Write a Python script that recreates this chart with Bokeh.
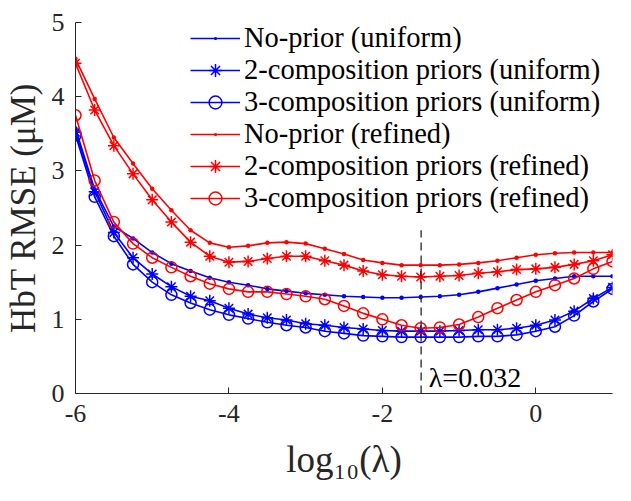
import numpy as np
from bokeh.plotting import figure
from bokeh.models import Legend, LegendItem, Label, FixedTicker, Range1d
from bokeh.embed import file_html
from bokeh.resources import INLINE

# ---------------- data ----------------
log_lambda = [-6.0, -5.75, -5.5, -5.25, -5.0, -4.75, -4.5, -4.25, -4.0, -3.75,
              -3.5, -3.25, -3.0, -2.75, -2.5, -2.25, -2.0, -1.75, -1.5, -1.25,
              -1.0, -0.75, -0.5, -0.25, 0.0, 0.25, 0.5, 0.75, 1.0]

noprior_uniform = [3.57, 2.75, 2.25, 2.09, 1.90, 1.75, 1.65, 1.56, 1.50, 1.46,
                   1.41, 1.38, 1.35, 1.33, 1.31, 1.30, 1.29, 1.29, 1.30, 1.31,
                   1.33, 1.37, 1.42, 1.47, 1.52, 1.55, 1.58, 1.58, 1.58]
comp2_uniform = [3.52, 2.72, 2.17, 1.83, 1.61, 1.44, 1.31, 1.25, 1.15, 1.07,
                 1.02, 0.99, 0.94, 0.92, 0.89, 0.87, 0.85, 0.84, 0.84, 0.84,
                 0.85, 0.86, 0.86, 0.88, 0.92, 0.99, 1.11, 1.28, 1.43]
comp3_uniform = [3.48, 2.65, 2.12, 1.74, 1.50, 1.33, 1.22, 1.13, 1.06, 1.01,
                 0.96, 0.92, 0.89, 0.84, 0.81, 0.78, 0.77, 0.76, 0.76, 0.76,
                 0.76, 0.77, 0.77, 0.79, 0.84, 0.90, 1.05, 1.24, 1.41]
noprior_refined = [4.51, 3.97, 3.45, 3.10, 2.76, 2.47, 2.20, 2.03, 1.97, 1.99,
                   2.03, 2.04, 2.02, 1.95, 1.88, 1.80, 1.76, 1.73, 1.73, 1.73,
                   1.74, 1.76, 1.79, 1.83, 1.87, 1.89, 1.90, 1.90, 1.90]
comp2_refined = [4.45, 3.82, 3.34, 2.96, 2.61, 2.31, 2.04, 1.85, 1.77, 1.78,
                 1.82, 1.85, 1.85, 1.79, 1.73, 1.65, 1.60, 1.58, 1.57, 1.58,
                 1.59, 1.62, 1.64, 1.67, 1.68, 1.70, 1.74, 1.79, 1.87]
comp3_refined = [3.75, 2.87, 2.31, 2.02, 1.83, 1.70, 1.58, 1.48, 1.41, 1.37,
                 1.37, 1.34, 1.31, 1.27, 1.18, 1.08, 1.00, 0.92, 0.88, 0.89,
                 0.93, 1.03, 1.15, 1.26, 1.37, 1.46, 1.55, 1.68, 1.78]

series_labels = ["No-prior (uniform)", "2-composition priors (uniform)",
                 "3-composition priors (uniform)", "No-prior (refined)",
                 "2-composition priors (refined)", "3-composition priors (refined)"]

x_ticks = [-6, -4, -2, 0]
x_tick_labels = {-6: "-6", -4: "-4", -2: "-2", 0: "0"}
y_ticks = [0, 1, 2, 3, 4, 5]

lambda_opt = 0.032
dash_y = [0.0, 2.2]

# ---------------- figure ----------------
SERIF = "Liberation Serif"
AX = "#262626"

p = figure(frame_width=537, frame_height=371,
           x_range=Range1d(-6, 1), y_range=Range1d(0, 5),
           output_backend="svg", toolbar_location=None,
           min_border_left=67, min_border_right=11,
           min_border_top=22, min_border_bottom=20)
p.outline_line_color = None
p.background_fill_color = "white"
p.xgrid[0].visible = False
p.ygrid[0].visible = False

xa = p.xaxis[0]
ya = p.yaxis[0]
for ax in (xa, ya):
    ax.axis_line_color = AX
    ax.axis_line_width = 1
    ax.major_tick_line_color = AX
    ax.major_tick_line_width = 1
    ax.major_tick_in = 6
    ax.major_tick_out = 0
    ax.minor_tick_line_color = None
    ax.major_label_text_font = SERIF
    ax.major_label_text_font_size = "26px"
    ax.major_label_text_color = AX
    ax.axis_label_text_font = SERIF
    ax.axis_label_text_font_style = "normal"
    ax.axis_label_text_color = AX

xa.ticker = FixedTicker(ticks=x_ticks)
xa.major_label_overrides = x_tick_labels
ya.ticker = FixedTicker(ticks=y_ticks)
xa.major_label_standoff = 11
ya.major_label_standoff = 11

ya.axis_label = "HbT RMSE (μM)"
ya.axis_label_text_font_size = "35px"
ya.axis_label_standoff = 6

xa.axis_label = "log₁₀(λ)"
xa.axis_label_text_font = "Liberation Serif, DejaVu Serif"
xa.axis_label_text_font_size = "37px"
xa.axis_label_standoff = 14

BLUE = "#0000ff"
RED = "#ff0000"
specs = [
    (noprior_uniform, BLUE, "dot", 18),
    (comp2_uniform, BLUE, "asterisk", 12),
    (comp3_uniform, BLUE, "circle", 11),
    (noprior_refined, RED, "dot", 18),
    (comp2_refined, RED, "asterisk", 12),
    (comp3_refined, RED, "circle", 11),
]

items = []
for (vals, col, mk, sz), lab in zip(specs, series_labels):
    lr = p.line(log_lambda, vals, line_color=col, line_width=1.6)
    if mk == "circle":
        sr = p.scatter(log_lambda, vals, marker="circle", size=sz,
                       line_color=col, fill_color=None, line_width=1.5)
    else:
        sr = p.scatter(log_lambda, vals, marker=mk, size=sz,
                       line_color=col, fill_color=col, line_width=1.5)
    items.append(LegendItem(label=lab, renderers=[lr, sr]))

# dashed line at optimal lambda
x_opt = float(np.log10(lambda_opt))
p.line([x_opt, x_opt], dash_y, line_color=AX, line_width=1.3, line_dash="8 5")
p.add_layout(Label(x=x_opt + 0.1, y=0.22, text="λ=0.032",
                   text_font=SERIF, text_font_size="28px", text_color="#000000",
                   text_baseline="alphabetic", text_align="left"))

legend = Legend(items=items, location=(115, 179),
                border_line_color=None, background_fill_alpha=0,
                padding=0, spacing=0, margin=0,
                glyph_width=50, glyph_height=32, label_height=32,
                label_standoff=4, label_text_font=SERIF,
                label_text_font_size="28.5px", label_text_color="#000000")
p.add_layout(legend)

open("out.html", "w").write(file_html(p, INLINE))
